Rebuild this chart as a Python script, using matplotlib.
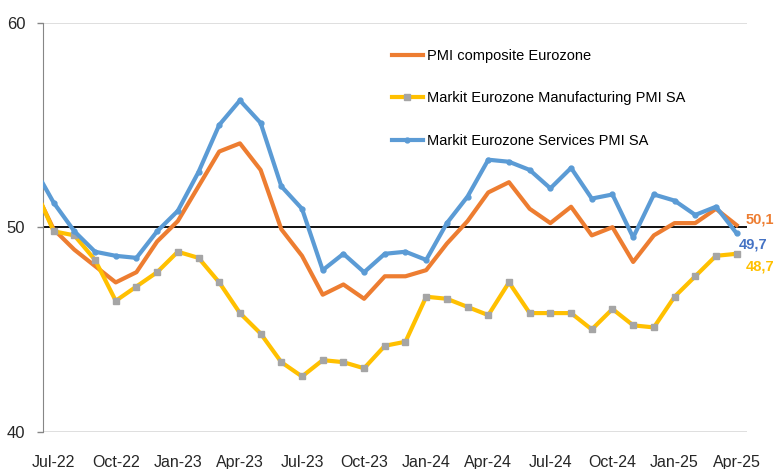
import matplotlib
matplotlib.use("Agg")
import matplotlib.pyplot as plt
import numpy as np

plt.rcParams['font.family'] = ['Liberation Sans', 'DejaVu Sans']

# months from Jun-22 (clipped, only its segment shows) to Apr-25
months = ['Jun-22', 'Jul-22', 'Aug-22', 'Sep-22', 'Oct-22', 'Nov-22', 'Dec-22',
          'Jan-23', 'Feb-23', 'Mar-23', 'Apr-23', 'May-23', 'Jun-23', 'Jul-23',
          'Aug-23', 'Sep-23', 'Oct-23', 'Nov-23', 'Dec-23', 'Jan-24', 'Feb-24',
          'Mar-24', 'Apr-24', 'May-24', 'Jun-24', 'Jul-24', 'Aug-24', 'Sep-24',
          'Oct-24', 'Nov-24', 'Dec-24', 'Jan-25', 'Feb-25', 'Mar-25', 'Apr-25']

composite = [52.0, 49.9, 48.9, 48.1, 47.3, 47.8, 49.3, 50.3, 52.0, 53.7, 54.1,
             52.8, 49.9, 48.6, 46.7, 47.2, 46.5, 47.6, 47.6, 47.9, 49.2, 50.3,
             51.7, 52.2, 50.9, 50.2, 51.0, 49.6, 50.0, 48.3, 49.6, 50.2, 50.2,
             50.9, 50.1]
manufacturing = [52.1, 49.8, 49.6, 48.4, 46.4, 47.1, 47.8, 48.8, 48.5, 47.3, 45.8,
                 44.8, 43.4, 42.7, 43.5, 43.4, 43.1, 44.2, 44.4, 46.6, 46.5, 46.1,
                 45.7, 47.3, 45.8, 45.8, 45.8, 45.0, 46.0, 45.2, 45.1, 46.6, 47.6,
                 48.6, 48.7]
services = [53.0, 51.2, 49.8, 48.8, 48.6, 48.5, 49.8, 50.8, 52.7, 55.0, 56.2,
            55.1, 52.0, 50.9, 47.9, 48.7, 47.8, 48.7, 48.8, 48.4, 50.2, 51.5,
            53.3, 53.2, 52.8, 51.9, 52.9, 51.4, 51.6, 49.5, 51.6, 51.3, 50.6,
            51.0, 49.7]

tick_labels = ['Jul-22', 'Oct-22', 'Jan-23', 'Apr-23', 'Jul-23', 'Oct-23',
               'Jan-24', 'Apr-24', 'Jul-24', 'Oct-24', 'Jan-25', 'Apr-25']

W, H = 774, 469
fig = plt.figure(figsize=(W / 100, H / 100), dpi=100)
ax = fig.add_axes([43.3 / W, (H - 431.7) / H, (747 - 43.3) / W, (431.7 - 22.7) / H])

x = np.arange(len(months)) - 1   # Jul-22 -> 0

ax.plot(x, composite, color='#ED7D31', lw=3, label='PMI composite Eurozone', zorder=3)
ax.plot(x, manufacturing, color='#FFC000', lw=3, marker='s', markersize=4.5,
        markerfacecolor='#A5A5A5', markeredgecolor='#A5A5A5',
        label='Markit Eurozone Manufacturing PMI SA', zorder=3)
ax.plot(x, services, color='#5B9BD5', lw=3, marker='o', markersize=3.5,
        label='Markit Eurozone Services PMI SA', zorder=4)

ax.axhline(50, color='black', lw=1.3, zorder=2)

ax.set_xlim(-0.5, 33.5)
ax.set_ylim(40, 60)
ax.set_yticks([40, 50, 60])
ax.yaxis.grid(True, color='#D9D9D9', lw=1.2)
ax.set_axisbelow(True)
ax.set_xticks(np.arange(0, 34, 3))
ax.set_xticklabels(tick_labels)

for s in ['top', 'right', 'bottom']:
    ax.spines[s].set_visible(False)
ax.spines['left'].set_color('#868686')
ax.tick_params(axis='x', length=0, pad=17, labelsize=11.5, colors='#262626')
ax.tick_params(axis='y', length=4, width=1, color='#868686', pad=9,
               labelsize=12, labelcolor='#262626')

# end value labels
ax.annotate('50,1', (x[-1], composite[-1]), xytext=(9, 6), textcoords='offset pixels',
            color='#ED7D31', fontsize=10.5, fontweight='bold', va='center',
            annotation_clip=False)
ax.annotate('49,7', (x[-1], services[-1]), xytext=(2, -11), textcoords='offset pixels',
            color='#4472C4', fontsize=10.5, fontweight='bold', va='center',
            annotation_clip=False)
ax.annotate('48,7', (x[-1], manufacturing[-1]), xytext=(9, -13), textcoords='offset pixels',
            color='#FFC000', fontsize=10.5, fontweight='bold', va='center',
            annotation_clip=False)

ax.legend(loc='upper left', bbox_to_anchor=(392 / W, 1 - 49 / H),
          bbox_transform=fig.transFigure, frameon=False, fontsize=10.5,
          handlelength=2.1, handletextpad=0.3, labelspacing=1.95,
          borderpad=0, borderaxespad=0)

fig.savefig('out.png', dpi=100)
